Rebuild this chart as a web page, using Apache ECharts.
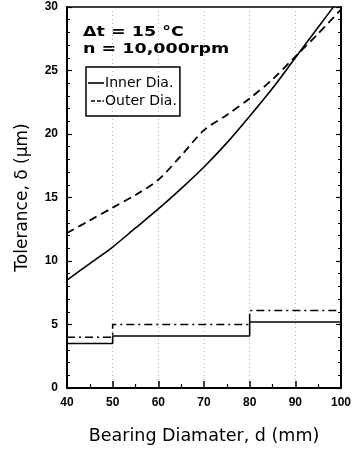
<!DOCTYPE html>
<html>
<head>
<meta charset="utf-8">
<script src="https://cdn.jsdelivr.net/npm/echarts@6/dist/echarts.min.js"></script>
<style>
html,body{margin:0;padding:0;background:#fff;}
#chart{width:354px;height:451px;}
</style>
</head>
<body>
<div id="chart"></div>
<script>
var diameters = [40, 45, 50, 55, 60, 65, 70, 75, 80, 85, 90, 95, 100];
var innerDia = [8.5, 9.8, 11.1, 12.6, 14.1, 15.7, 17.4, 19.3, 21.4, 23.6, 26.0, 28.4, 30.8];
var outerDia = [12.2, 13.2, 14.2, 15.2, 16.4, 18.3, 20.3, 21.5, 22.8, 24.3, 26.1, 27.9, 29.8];
var stepDiameters = [40, 50, 80, 100];
var innerStep = [3.5, 4.1, 5.2, 5.2];
var outerStep = [4.0, 5.0, 6.1, 6.1];
var xTicks = [40, 50, 60, 70, 80, 90, 100];
var yTicks = [0, 5, 10, 15, 20, 25, 30];

function pairs(xs, ys) { return xs.map(function (x, i) { return [x, ys[i]]; }); }

var chart = echarts.init(document.getElementById('chart'), null, {renderer: 'canvas'});
var labelFont = {color: '#000', fontFamily: '"Liberation Sans Narrow", "Liberation Sans"', fontWeight: 'bold', fontSize: 12};
var solidIcon = 'path://M0,0 M0,10 M0,4.2h16v1.6h-16z';
var dashIcon = 'path://M0,0 M0,10 M3,4.2h4v1.6h-4z M9,4.2h4v1.6h-4z M14.5,4.2h1.5v1.6h-1.5z';
var option = {
  animation: false,
  backgroundColor: '#fff',
  grid: {left: 67, right: 13, top: 7, bottom: 63},
  legend: {
    data: [{name: 'Inner Dia.', icon: solidIcon}, {name: 'Outer Dia.', icon: dashIcon}],
    orient: 'vertical',
    left: 86, top: 67,
    itemWidth: 16, itemHeight: 10, itemGap: 2,
    padding: [8, 3, 7, 2],
    borderColor: '#000', borderWidth: 1.5,
    textStyle: {color: '#000', fontFamily: 'DejaVu Sans', fontSize: 14, lineHeight: 16, padding: [0, 0, 0, -4]}
  },
  graphic: [
    {type: 'text', x: 83, y: 32, scaleX: 1.25, style: {text: 'Δt = 15 °C', fill: '#000', font: 'bold 14px "DejaVu Sans"', verticalAlign: 'middle'}},
    {type: 'text', x: 83, y: 49, scaleX: 1.25, style: {text: 'n = 10,000rpm', fill: '#000', font: 'bold 14px "DejaVu Sans"', verticalAlign: 'middle'}}
  ],
  xAxis: [{
    type: 'value', min: 40, max: 100, interval: 10, position: 'bottom',
    name: 'Bearing Diamater, d (mm)', nameLocation: 'middle', nameGap: 39,
    nameTextStyle: {color: '#000', fontFamily: 'DejaVu Sans', fontSize: 17.5},
    axisLine: {lineStyle: {color: '#000', width: 2}},
    axisTick: {inside: true, length: 7, lineStyle: {color: '#000', width: 1.5}},
    minorTick: {show: true, splitNumber: 2, length: 4, lineStyle: {color: '#000', width: 1.2}},
    axisLabel: Object.assign({margin: 9, formatter: function (v) { return xTicks.indexOf(v) >= 0 ? String(v) : ''; }}, labelFont),
    splitLine: {show: true, lineStyle: {color: '#b5b5b5', type: [1, 3], width: 1}}
  }, {
    type: 'value', min: 40, max: 100, interval: 10, position: 'top',
    axisLine: {show: true, onZero: false, lineStyle: {color: '#000', width: 1.5}},
    axisTick: {show: false}, axisLabel: {show: false}, splitLine: {show: false}
  }],
  yAxis: [{
    type: 'value', min: 0, max: 30, interval: 5, position: 'left',
    name: 'Tolerance, δ (μm)', nameLocation: 'middle', nameGap: 36,
    nameTextStyle: {color: '#000', fontFamily: 'DejaVu Sans', fontSize: 17},
    axisLine: {show: true, lineStyle: {color: '#000', width: 2}},
    axisTick: {show: true, inside: true, length: 5, lineStyle: {color: '#000', width: 1.2}},
    minorTick: {show: true, splitNumber: 5, length: 3, lineStyle: {color: '#000', width: 1}},
    axisLabel: Object.assign({margin: 9, formatter: function (v) { return yTicks.indexOf(v) >= 0 ? String(v) : ''; }}, labelFont),
    splitLine: {show: false}
  }, {
    type: 'value', min: 0, max: 30, interval: 5, position: 'right',
    axisLine: {show: true, onZero: false, lineStyle: {color: '#000', width: 2}},
    axisTick: {show: true, inside: true, length: 5, lineStyle: {color: '#000', width: 1.2}},
    minorTick: {show: true, splitNumber: 5, length: 3, lineStyle: {color: '#000', width: 1}},
    axisLabel: {show: false}, splitLine: {show: false}
  }],
  series: [
    {name: 'Inner Dia.', type: 'line', smooth: 0.3, symbol: 'none', data: pairs(diameters, innerDia),
      lineStyle: {color: '#000', width: 1.6, type: 'solid'}, itemStyle: {color: '#000'}},
    {name: 'Outer Dia.', type: 'line', smooth: 0.3, symbol: 'none', data: pairs(diameters, outerDia),
      lineStyle: {color: '#000', width: 1.8, type: [8, 5]}, itemStyle: {color: '#000'}},
    {name: 'Inner Dia.', type: 'line', step: 'end', symbol: 'none', data: pairs(stepDiameters, innerStep),
      lineStyle: {color: '#000', width: 1.6, type: 'solid'}, itemStyle: {color: '#000'}},
    {name: 'Outer Dia.', type: 'line', step: 'end', symbol: 'none', data: pairs(stepDiameters, outerStep),
      lineStyle: {color: '#000', width: 1.6, type: [8, 4, 2, 4]}, itemStyle: {color: '#000'}}
  ]
};
chart.setOption(option);
</script>
</body>
</html>
